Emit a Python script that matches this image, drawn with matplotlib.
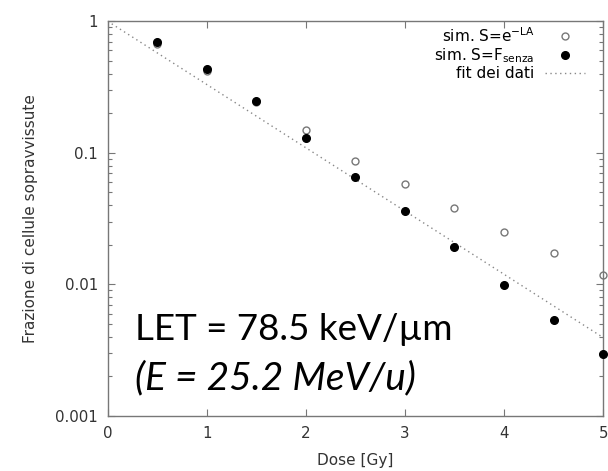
import matplotlib.pyplot as plt

# surviving fraction vs dose, two simulation methods + exponential fit
dose = [0.5, 1.0, 1.5, 2.0, 2.5, 3.0, 3.5, 4.0, 4.5, 5.0]
surv_exp = [0.67, 0.42, 0.245, 0.150, 0.086, 0.058, 0.038, 0.0251, 0.0172, 0.0118]
surv_senza = [0.70, 0.43, 0.246, 0.130, 0.066, 0.0363, 0.0191, 0.0099, 0.00535, 0.00298]

# fit endpoints (straight line on log axis)
fit_dose = [0.0, 5.0]
fit_surv = [1.0, 0.00394]

x_ticks = [0, 1, 2, 3, 4, 5]
y_ticks = [0.001, 0.01, 0.1, 1]
y_ticklabels = ["0.001", "0.01", "0.1", "1"]

fig = plt.figure(figsize=(6.08, 4.71), dpi=100)
ax = fig.add_axes([0.177, 0.117, 0.815, 0.838])

ax.plot(fit_dose, fit_surv, linestyle=(0, (1, 2.5)), color="#888888", lw=1.0,
        label="fit dei dati", zorder=1)
ax.plot(dose, surv_exp, "o", ms=5, mfc="white", mec="#777777", mew=1.0,
        label=r"sim. S=e$^{\mathregular{-LA}}$", zorder=2, clip_on=False)
ax.plot(dose, surv_senza, "o", ms=5.5, color="black",
        label=r"sim. S=F$_{\mathregular{senza}}$", zorder=3, clip_on=False)

ax.set_yscale("log")
ax.set_xlim(0, 5)
ax.set_ylim(0.001, 1)
ax.set_xticks(x_ticks)
ax.set_xticklabels([str(t) for t in x_ticks])
ax.set_yticks(y_ticks)
ax.set_yticklabels(y_ticklabels)

for s in ax.spines.values():
    s.set_color("#777777")
    s.set_linewidth(1.0)
ax.tick_params(which="both", direction="in", top=True, right=True,
               colors="#777777", labelcolor="#333333", labelsize=10.8)
ax.tick_params(which="major", length=5, width=0.8, pad=7)
ax.tick_params(which="minor", length=3, width=0.8)

ax.set_xlabel("Dose [Gy]", fontsize=11, color="#333333", labelpad=9)
ax.set_ylabel("Frazione di cellule sopravvissute", fontsize=11,
              color="#333333", labelpad=12)

handles, labels = ax.get_legend_handles_labels()
order = [1, 2, 0]
ax.legend([handles[i] for i in order], [labels[i] for i in order],
          loc="upper right", bbox_to_anchor=(0.985, 1.015), frameon=False,
          markerfirst=False, fontsize=11, handlelength=2.6,
          labelspacing=0.1, handletextpad=0.7, borderpad=0.2)

ax.text(0.055, 0.193, "LET = 78.5 keV/\u00b5m", transform=ax.transAxes,
        fontsize=26.5, family="Lato", color="black")
ax.text(0.055, 0.0685, "(E = 25.2 MeV/u)", transform=ax.transAxes,
        fontsize=28, family="Lato", style="italic", color="black")

fig.savefig("out.png", dpi=100)
